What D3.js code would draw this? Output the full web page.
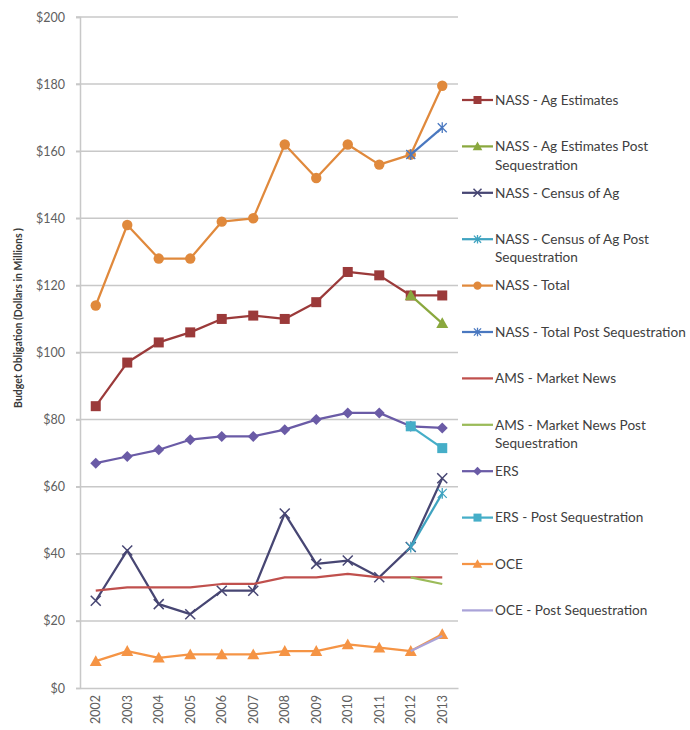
<!DOCTYPE html>
<html>
<head>
<meta charset="utf-8">
<script src="https://cdn.jsdelivr.net/npm/d3@7"></script>
<style>
  html, body { margin: 0; padding: 0; background: #fff; }
  svg { display: block; font-family: Lato, "Open Sans", "DejaVu Sans", sans-serif; }
</style>
</head>
<body>
<svg id="chart" width="690" height="730"></svg>
<script>
// Fiscal years on the category axis
const years = ["2002","2003","2004","2005","2006","2007","2008","2009","2010","2011","2012","2013"];
const postYears = ["2012","2013"];

// Budget obligations, $ millions
const nassAgEstimates     = [84, 97, 103, 106, 110, 111, 110, 115, 124, 123, 117, 117];
const nassAgEstimatesPost = [117, 108.7];
const nassCensus          = [26, 41, 25, 22, 29, 29, 52, 37, 38, 33, 42, 62.5];
const nassCensusPost      = [42, 58];
const nassTotal           = [114, 138, 128, 128, 139, 140, 162, 152, 162, 156, 159, 179.5];
const nassTotalPost       = [159, 167];
const amsMarketNews       = [29, 30, 30, 30, 31, 31, 33, 33, 34, 33, 33, 33];
const amsMarketNewsPost   = [33, 31];
const ers                 = [67, 69, 71, 74, 75, 75, 77, 80, 82, 82, 78, 77.5];
const ersPost             = [78, 71.5];
const oce                 = [8, 11, 9, 10, 10, 10, 11, 11, 13, 12, 11, 16];
const ocePost             = [11, 15.5];

const yTicks = [0, 20, 40, 60, 80, 100, 120, 140, 160, 180, 200];

const seriesNames = [
  "NASS - Ag Estimates", "NASS - Ag Estimates Post Sequestration",
  "NASS - Census of Ag", "NASS - Census of Ag Post Sequestration",
  "NASS - Total", "NASS - Total Post Sequestration",
  "AMS - Market News", "AMS - Market News Post Sequestration",
  "ERS", "ERS - Post Sequestration",
  "OCE", "OCE - Post Sequestration"
];

const series = [
  { name: seriesNames[0],  x: years,     y: nassAgEstimates,     color: "#9b3a3a", marker: "square" },
  { name: seriesNames[1],  x: postYears, y: nassAgEstimatesPost, color: "#8aa83e", marker: "triangle" },
  { name: seriesNames[2],  x: years,     y: nassCensus,          color: "#474673", marker: "x" },
  { name: seriesNames[3],  x: postYears, y: nassCensusPost,      color: "#3fa3c0", marker: "star" },
  { name: seriesNames[4],  x: years,     y: nassTotal,           color: "#e0893c", marker: "circle" },
  { name: seriesNames[5],  x: postYears, y: nassTotalPost,       color: "#4a78c0", marker: "star" },
  { name: seriesNames[6],  x: years,     y: amsMarketNews,       color: "#c0504d", marker: "none" },
  { name: seriesNames[7],  x: postYears, y: amsMarketNewsPost,   color: "#9bbb59", marker: "none" },
  { name: seriesNames[8],  x: years,     y: ers,                 color: "#6a5ba6", marker: "diamond" },
  { name: seriesNames[9],  x: postYears, y: ersPost,             color: "#45aec8", marker: "square" },
  { name: seriesNames[10], x: years,     y: oce,                 color: "#f59445", marker: "triangle" },
  { name: seriesNames[11], x: postYears, y: ocePost,             color: "#aaa3d8", marker: "none" }
];

// Legend text, broken where the long labels wrap
const legendLines = [
  ["NASS - Ag Estimates"],
  ["NASS - Ag Estimates Post", "Sequestration"],
  ["NASS - Census of Ag"],
  ["NASS - Census of Ag Post", "Sequestration"],
  ["NASS - Total"],
  ["NASS - Total Post Sequestration"],
  ["AMS - Market News"],
  ["AMS - Market News Post", "Sequestration"],
  ["ERS"],
  ["ERS - Post Sequestration"],
  ["OCE"],
  ["OCE - Post Sequestration"]
];

const svg = d3.select("#chart");
const plot = { left: 80, right: 458, top: 17, bottom: 688 };

const x = d3.scaleBand().domain(years).range([plot.left, plot.right]);
const cx = d => x(d) + x.bandwidth() / 2;
const y = d3.scaleLinear().domain([0, 200]).range([plot.bottom, plot.top]);

const gridColor = "#c8c8c8";
const textColor = "#606060";

// Horizontal gridlines
svg.append("g")
  .selectAll("line")
  .data(yTicks.filter(t => t > 0))
  .join("line")
  .attr("x1", plot.left - 4).attr("x2", plot.right)
  .attr("y1", d => y(d)).attr("y2", d => y(d))
  .attr("stroke", gridColor).attr("stroke-width", 1.5);

// Y axis with dollar labels
const yAxis = svg.append("g")
  .attr("transform", `translate(${plot.left},0)`)
  .call(d3.axisLeft(y).tickValues(yTicks).tickFormat(d => "$" + d).tickSize(4).tickPadding(11));
yAxis.select(".domain").attr("stroke", gridColor).attr("stroke-width", 1.5);
yAxis.selectAll(".tick line").attr("stroke", gridColor).attr("stroke-width", 1.5);
yAxis.selectAll(".tick text").attr("fill", textColor).attr("font-size", 12.5)
  .attr("font-family", "Lato, 'Open Sans', sans-serif");

// X axis with rotated year labels
const xAxis = svg.append("g")
  .attr("transform", `translate(0,${plot.bottom})`)
  .call(d3.axisBottom(x).tickSize(0).tickSizeOuter(0));
xAxis.select(".domain").attr("stroke", gridColor).attr("stroke-width", 1.5);
xAxis.selectAll(".tick text")
  .attr("fill", textColor).attr("font-size", 12.5)
  .attr("font-family", "Lato, 'Open Sans', sans-serif")
  .attr("transform", "rotate(-90)")
  .attr("text-anchor", "end")
  .attr("x", -7).attr("y", 0).attr("dy", "0.35em");

// Y axis title
svg.append("text")
  .attr("transform", "translate(19,318) rotate(-90)")
  .attr("text-anchor", "middle").attr("dominant-baseline", "middle")
  .attr("font-size", 10.5).attr("font-weight", "bold").attr("fill", "#3a3a3a")
  .text("Budget Obligation  (Dollars in Millions )");

// Marker drawing shared by the plot and the legend
function drawMarker(g, type, color, px, py, s) {
  s = s || 1;
  if (type === "square") {
    g.append("rect").attr("x", px - 5 * s).attr("y", py - 5 * s)
      .attr("width", 10 * s).attr("height", 10 * s).attr("fill", color);
  } else if (type === "circle") {
    g.append("circle").attr("cx", px).attr("cy", py).attr("r", 5.2 * s).attr("fill", color);
  } else if (type === "triangle") {
    const r = 6 * s;
    g.append("path")
      .attr("d", `M${px},${py - r} L${px + r},${py + r * 0.8} L${px - r},${py + r * 0.8} Z`)
      .attr("fill", color);
  } else if (type === "diamond") {
    const r = 5.5 * s;
    g.append("path")
      .attr("d", `M${px},${py - r} L${px + r},${py} L${px},${py + r} L${px - r},${py} Z`)
      .attr("fill", color);
  } else if (type === "x") {
    const r = 5 * s;
    g.append("path")
      .attr("d", `M${px - r},${py - r} L${px + r},${py + r} M${px - r},${py + r} L${px + r},${py - r}`)
      .attr("stroke", color).attr("stroke-width", 1.5).attr("fill", "none");
  } else if (type === "star") {
    const r = 4.5 * s;
    g.append("path")
      .attr("d", `M${px - r},${py - r} L${px + r},${py + r} M${px - r},${py + r} L${px + r},${py - r} M${px},${py - r * 1.2} L${px},${py + r * 1.2}`)
      .attr("stroke", color).attr("stroke-width", 1.3).attr("fill", "none");
  }
}

// Series lines and markers
const line = d3.line().x(d => cx(d[0])).y(d => y(d[1]));
const linesG = svg.append("g");
series.forEach(s => {
  const pts = s.x.map((yr, i) => [yr, s.y[i]]);
  const g = linesG.append("g");
  g.append("path").datum(pts).attr("d", line)
    .attr("fill", "none").attr("stroke", s.color).attr("stroke-width", 2.25)
    .attr("stroke-linejoin", "round");
  if (s.marker !== "none") {
    pts.forEach(p => drawMarker(g, s.marker, s.color, cx(p[0]), y(p[1]), 1));
  }
});

// Legend
const legend = svg.append("g");
const legendY0 = 100, legendStep = 46.4;
series.forEach((s, i) => {
  const ly = legendY0 + i * legendStep;
  const g = legend.append("g");
  g.append("line").attr("x1", 462).attr("x2", 493).attr("y1", ly).attr("y2", ly)
    .attr("stroke", s.color).attr("stroke-width", 2.25);
  if (s.marker !== "none") drawMarker(g, s.marker, s.color, 477.5, ly, 0.8);
  const t = g.append("text").attr("x", 495).attr("y", ly)
    .attr("font-size", 13.6).attr("fill", "#404040")
    .attr("font-family", "Lato, 'Open Sans', sans-serif");
  legendLines[i].forEach((ln, j) => {
    t.append("tspan").attr("x", 495).attr("y", ly + j * 18.5).attr("dy", "0.35em").text(ln);
  });
});
</script>
</body>
</html>
